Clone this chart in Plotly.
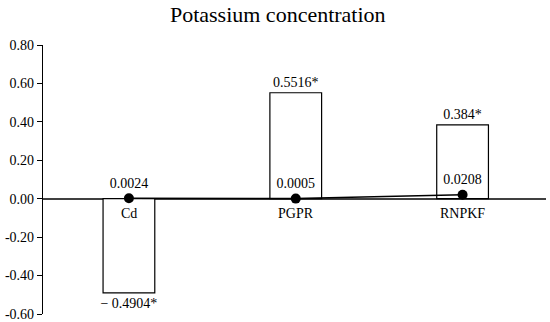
import plotly.graph_objects as go

categories = ["Cd", "PGPR", "RNPKF"]
bar_values = [-0.4904, 0.5516, 0.384]
bar_labels = ["\u2212 0.4904*", "0.5516*", "0.384*"]
line_values = [0.0024, 0.0005, 0.0208]
line_labels = ["0.0024", "0.0005", "0.0208"]
tick_vals = [-0.6, -0.4, -0.2, 0.0, 0.2, 0.4, 0.6, 0.8]
tick_text = ["-0.60", "-0.40", "-0.20", "0.00", "0.20", "0.40", "0.60", "0.80"]

FONT = "Liberation Serif, Times New Roman, serif"

fig = go.Figure()
fig.add_trace(go.Bar(
    x=categories, y=bar_values, width=0.31,
    marker=dict(color="white", line=dict(color="black", width=1.2)),
    text=bar_labels, textposition="outside", cliponaxis=False, constraintext="none",
    textfont=dict(family=FONT, size=14, color="black"),
    showlegend=False,
))
fig.add_trace(go.Scatter(
    x=categories, y=line_values, mode="lines+markers+text",
    line=dict(color="black", width=1.5),
    marker=dict(color="black", size=10),
    text=line_labels, textposition="top center",
    textfont=dict(family=FONT, size=14, color="black"),
    cliponaxis=False, showlegend=False,
))
for c in categories:
    fig.add_annotation(x=c, y=0, text=c, showarrow=False, yanchor="top", yshift=-5,
                       font=dict(family=FONT, size=14, color="black"))

fig.update_layout(
    width=550, height=322,
    margin=dict(l=43, r=4, t=45, b=8, autoexpand=False),
    paper_bgcolor="white", plot_bgcolor="white",
    font=dict(family=FONT, size=14, color="black"),
    title=dict(text="Potassium concentration", x=0.505, xanchor="center", y=0.955, yanchor="middle",
               font=dict(family=FONT, size=22, color="black")),
    bargap=0.6,
)
fig.update_xaxes(range=[-0.515, 2.5], showticklabels=False, showline=False, showgrid=False,
                 zeroline=False, ticks="", automargin=False)
fig.update_yaxes(range=[-0.6, 0.8], tickvals=tick_vals, ticktext=tick_text, automargin=False,
                 ticklabeloverflow="allow",
                 showline=True, linecolor="black", linewidth=1.2,
                 ticks="outside", ticklen=5, tickcolor="black",
                 showgrid=False, zeroline=True, zerolinecolor="#404040", zerolinewidth=1.5,
                 tickfont=dict(family=FONT, size=14, color="black"))
fig.write_html("out.html", config={"displayModeBar": False},
               post_script="document.body.style.margin='0';document.body.style.overflow='hidden';")
